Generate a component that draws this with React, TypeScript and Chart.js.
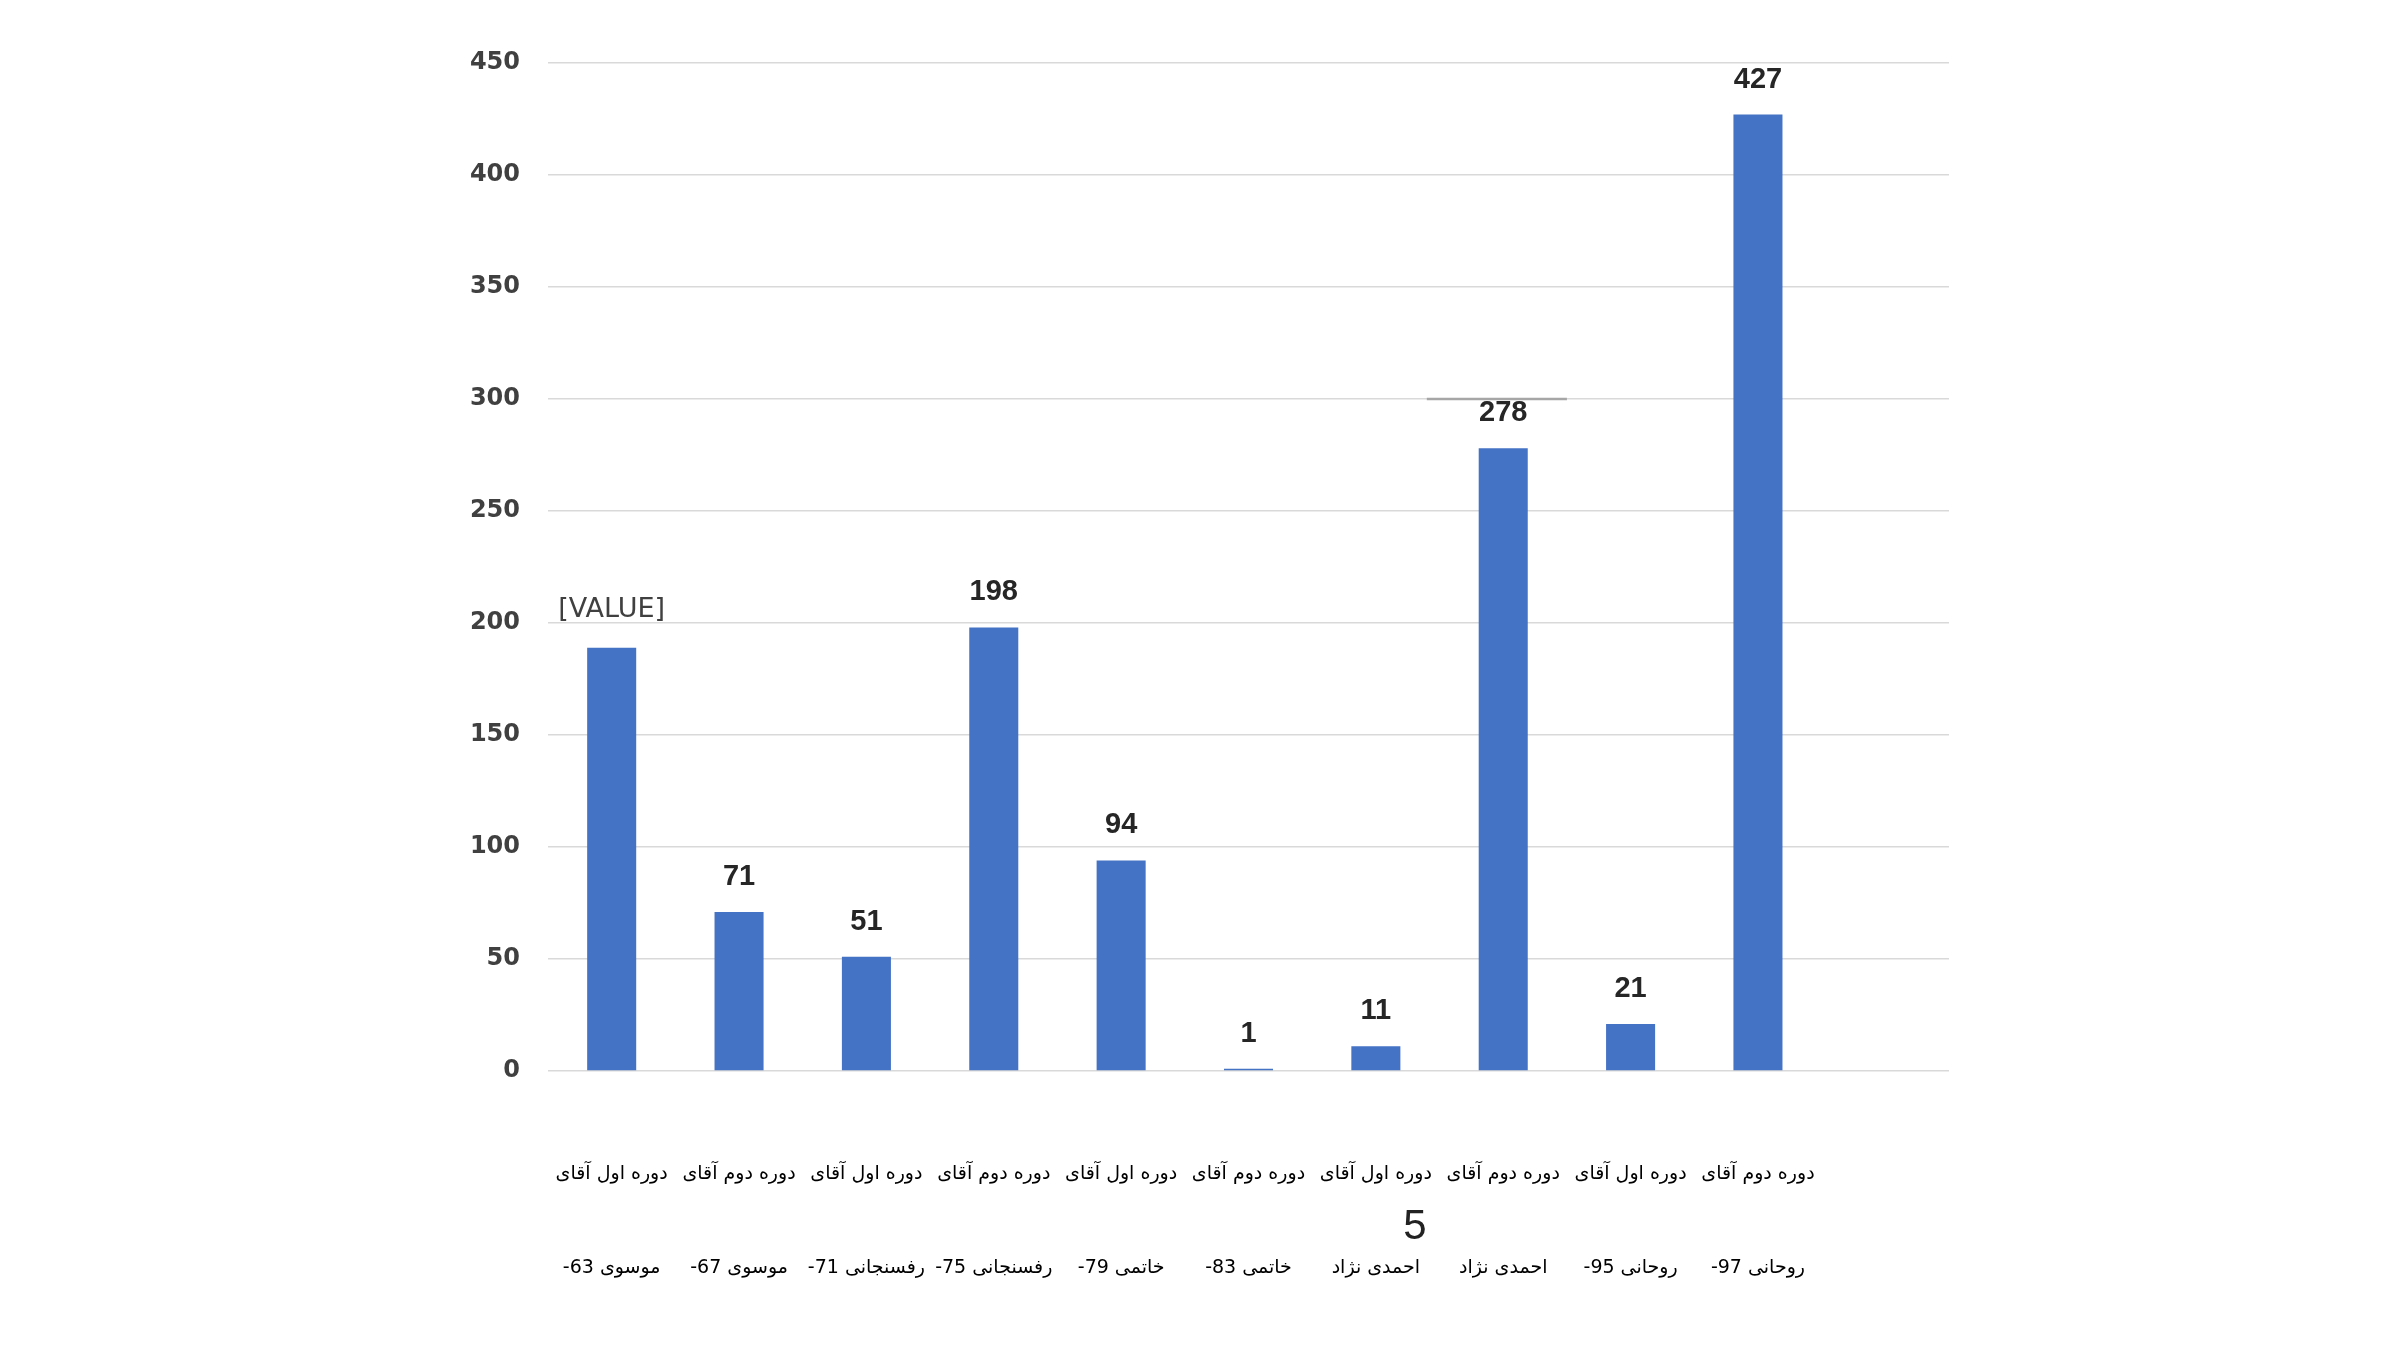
import React, { useEffect, useRef } from "react";
import { Chart, registerables } from "chart.js";

Chart.register(...registerables);

const LRM = "\u200E";

const periodLabels = [
  "دوره اول آقای",
  "دوره دوم آقای",
  "دوره اول آقای",
  "دوره دوم آقای",
  "دوره اول آقای",
  "دوره دوم آقای",
  "دوره اول آقای",
  "دوره دوم آقای",
  "دوره اول آقای",
  "دوره دوم آقای",
  "",
];
const presidentNames = [
  "موسوی",
  "موسوی",
  "رفسنجانی",
  "رفسنجانی",
  "خاتمی",
  "خاتمی",
  "احمدی نژاد",
  "احمدی نژاد",
  "روحانی",
  "روحانی",
  "",
];
const yearTags = ["-63", "-67", "-71", "-75", "-79", "-83", "", "", "-95", "-97", ""];
const values = [189, 71, 51, 198, 94, 1, 11, 278, 21, 427];
const valueLabels = ["[VALUE]", "71", "51", "198", "94", "1", "11", "278", "21", "427"];
const yMin = 0;
const yMax = 450;
const yStep = 50;
const markedGridValue = 300;
const markedGridIndex = 7;
const pageNumber = "5";

export default function App() {
  const ref = useRef<HTMLCanvasElement | null>(null);

  useEffect(() => {
    document.body.style.margin = "0";
    const canvas = ref.current;
    if (!canvas) return;

    const labelPlugin = {
      id: "valueLabels",
      afterDatasetsDraw(chart: any) {
        const ctx = chart.ctx;
        const meta = chart.getDatasetMeta(0);
        const xs = chart.scales.x;
        const ys = chart.scales.y;
        const cw = xs.getPixelForValue(1) - xs.getPixelForValue(0);
        const cx = xs.getPixelForValue(markedGridIndex);
        const gy = ys.getPixelForValue(markedGridValue);
        ctx.save();
        ctx.strokeStyle = "#a6a6a6";
        ctx.lineWidth = 2.5;
        ctx.beginPath();
        ctx.moveTo(cx - cw * 0.6, gy);
        ctx.lineTo(cx + cw * 0.5, gy);
        ctx.stroke();

        ctx.textAlign = "center";
        ctx.textBaseline = "middle";
        meta.data.forEach((bar: any, i: number) => {
          const txt = valueLabels[i];
          if (i === 0) {
            ctx.font = "27px 'DejaVu Sans'";
            ctx.fillStyle = "#404040";
            ctx.fillText(txt, bar.x, bar.y - 38);
          } else {
            ctx.font = "bold 29px 'Liberation Sans'";
            ctx.fillStyle = "#262626";
            ctx.fillText(txt, bar.x, bar.y - 35);
          }
        });
        ctx.restore();
      },
    };

    const labels = periodLabels.map((p, i) => {
      const name = presidentNames[i];
      const tag = yearTags[i];
      const second = tag ? tag + LRM + " " + name : name;
      return p || name ? [p, second] : "";
    });

    const chart = new Chart(canvas, {
      type: "bar",
      data: {
        labels,
        datasets: [
          {
            data: values,
            backgroundColor: "#4472C4",
            borderWidth: 0,
            categoryPercentage: 1,
            barPercentage: 0.385,
          },
        ],
      },
      options: {
        animation: false,
        responsive: false,
        maintainAspectRatio: false,
        layout: { padding: { left: 400, right: 451, top: 63, bottom: 0 } },
        plugins: {
          legend: { display: false },
          tooltip: { enabled: false },
          title: { display: false },
        },
        scales: {
          x: {
            type: "category",
            grid: { display: false, drawTicks: false },
            border: { display: false },
            ticks: {
              maxRotation: 0,
              minRotation: 0,
              autoSkip: false,
              padding: 57,
              color: "#000000",
              font: { family: "'DejaVu Sans'", size: 19, lineHeight: 4.9 },
            },
            afterFit: (s: any) => {
              s.height = 279;
            },
          },
          y: {
            min: yMin,
            max: yMax,
            grid: { color: "#d9d9d9", lineWidth: 1.5, drawTicks: false },
            border: { display: false },
            ticks: {
              stepSize: yStep,
              padding: 28,
              color: "#404040",
              font: { family: "'DejaVu Sans'", size: 24, weight: "bold" },
            },
            afterFit: (s: any) => {
              s.width = 148;
            },
          },
        },
      },
      plugins: [labelPlugin],
    } as any);

    return () => chart.destroy();
  }, []);

  return (
    <div style={{ position: "absolute", left: 0, top: 0, width: 2400, height: 1350, background: "#ffffff" }}>
      <canvas ref={ref} width={2400} height={1350} style={{ width: 2400, height: 1350, display: "block" }} />
      <div
        style={{
          position: "absolute",
          left: 1395,
          top: 1200,
          width: 40,
          textAlign: "center",
          fontFamily: "'Liberation Sans'",
          fontSize: 42,
          lineHeight: "50px",
          color: "#222",
        }}
      >
        {pageNumber}
      </div>
    </div>
  );
}
